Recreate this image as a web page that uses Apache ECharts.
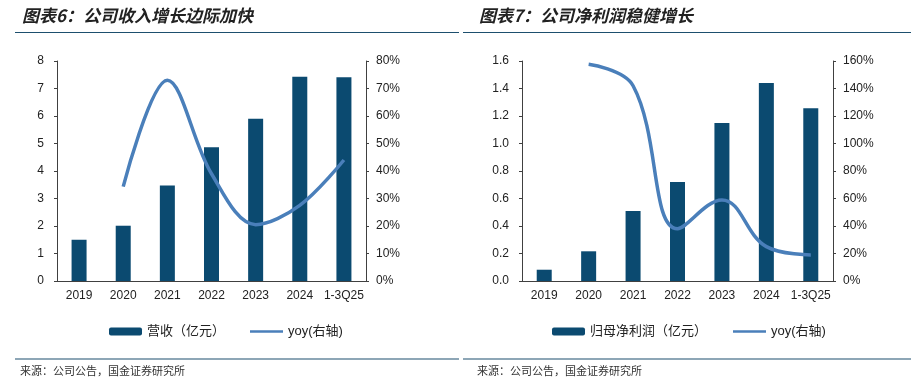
<!DOCTYPE html>
<html><head><meta charset="utf-8">
<script src="https://cdn.jsdelivr.net/npm/echarts@6/dist/echarts.min.js"></script>
<style>html,body{margin:0;padding:0;background:#fff}#c{width:917px;height:386px}</style>
</head><body><div id="c"></div>
<script>
var categories = ['2019','2020','2021','2022','2023','2024','1-3Q25'];
var revenue = [1.5, 2.01, 3.47, 4.86, 5.9, 7.43, 7.41];
var revenueYoy = [null, 34.3, 73, 39, 20.5, 27.5, 44];
var netProfit = [0.082, 0.216, 0.509, 0.72, 1.149, 1.44, 1.256];
var profitYoy = [null, 157.6, 142, 38, 59, 25, 19];
var leftTicks = {min:0, max:8, interval:1};
var rightTicksL = {min:0, max:80, interval:10};
var profitTicks = {min:0, max:1.6, interval:0.2};
var rightTicksR = {min:0, max:160, interval:20};

var barColor = '#0b4a70', lineColor = '#4a7fba', axisColor = '#404040';
var font = 'Arial, "Liberation Sans", "Noto Sans CJK SC", sans-serif';
var lineIcon = 'path://M0,3L33,3L33,5.5L0,5.5Z';
function xAxis(gi){return {type:'category', gridIndex:gi, data:categories,
  axisLine:{lineStyle:{color:axisColor}}, axisTick:{inside:true,length:4,lineStyle:{color:axisColor}},
  axisLabel:{color:'#222', fontSize:12, fontFamily:font, margin:9, interval:0}};}
function yAxis(gi, t, pos, fmt){return {type:'value', gridIndex:gi, position:pos, min:t.min, max:t.max, interval:t.interval,
  splitLine:{show:false}, axisLine:{show:true, lineStyle:{color:axisColor}}, axisTick:{show:true,length:3,lineStyle:{color:axisColor}},
  axisLabel:{color:'#222', fontSize:12, fontFamily:font, margin:pos==='left'?13:10, formatter:fmt}};}
var chart = echarts.init(document.getElementById('c'), null, {renderer:'canvas'});
chart.setOption({
  animation:false,
  grid:[{left:57, right:551, top:61, bottom:105},{left:522, right:84, top:61, bottom:105}],
  xAxis:[xAxis(0), xAxis(1)],
  yAxis:[yAxis(0,leftTicks,'left',function(v){return v;}), yAxis(0,rightTicksL,'right','{value}%'),
         yAxis(1,profitTicks,'left',function(v){return v.toFixed(1);}), yAxis(1,rightTicksR,'right','{value}%')],
  legend:[{left:104, top:320, itemWidth:33, itemHeight:8, itemGap:25, data:['营收（亿元）',{name:'yoy(右轴)', icon:lineIcon}],
     textStyle:{fontSize:13, color:'#222', fontFamily:font}},
    {left:547, top:320, itemWidth:33, itemHeight:8, itemGap:26, data:['归母净利润（亿元）',{name:'yoy(右轴) ', icon:lineIcon}],
     textStyle:{fontSize:13, color:'#222', fontFamily:font}}],
  series:[
    {name:'营收（亿元）', type:'bar', xAxisIndex:0, yAxisIndex:0, data:revenue, barWidth:15, itemStyle:{color:barColor}},
    {name:'yoy(右轴)', type:'line', xAxisIndex:0, yAxisIndex:1, data:revenueYoy, smooth:0.35, symbol:'none', lineStyle:{color:lineColor, width:3.5}, itemStyle:{color:lineColor}},
    {name:'归母净利润（亿元）', type:'bar', xAxisIndex:1, yAxisIndex:2, data:netProfit, barWidth:15, itemStyle:{color:barColor}},
    {name:'yoy(右轴) ', type:'line', xAxisIndex:1, yAxisIndex:3, data:profitYoy, smooth:0.4, symbol:'none', lineStyle:{color:lineColor, width:3.5}, itemStyle:{color:lineColor}}
  ],
  graphic:[
    {type:'text', left:22, top:7, style:{text:'图表6：公司收入增长边际加快', font:'italic bold 17px "Noto Sans CJK SC", sans-serif', fill:'#222'}},
    {type:'text', left:479, top:7, style:{text:'图表7：公司净利润稳健增长', font:'italic bold 17px "Noto Sans CJK SC", sans-serif', fill:'#222'}},
    {type:'line', shape:{x1:15,y1:32.5,x2:459,y2:32.5}, style:{stroke:'#1d4f6e', lineWidth:1.2}},
    {type:'line', shape:{x1:463,y1:32.5,x2:911,y2:32.5}, style:{stroke:'#1d4f6e', lineWidth:1.2}},
    {type:'line', shape:{x1:15,y1:359,x2:459,y2:359}, style:{stroke:'#1d4f6e', lineWidth:1.2}},
    {type:'line', shape:{x1:463,y1:359,x2:911,y2:359}, style:{stroke:'#1d4f6e', lineWidth:1.2}},
    {type:'text', left:20, top:365, style:{text:'来源：公司公告，国金证券研究所', font:'11px "Noto Sans CJK SC", sans-serif', fill:'#333'}},
    {type:'text', left:477, top:365, style:{text:'来源：公司公告，国金证券研究所', font:'11px "Noto Sans CJK SC", sans-serif', fill:'#333'}}
  ]
});
</script></body></html>
